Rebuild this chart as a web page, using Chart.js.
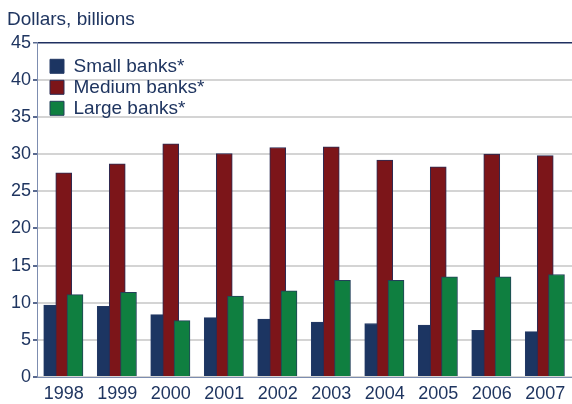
<!DOCTYPE html>
<html>
<head>
<meta charset="utf-8">
<script src="https://cdn.jsdelivr.net/npm/chart.js@4"></script>
<style>
  html, body { margin: 0; padding: 0; background: #ffffff; }
  #wrap { width: 572px; height: 404px; }
</style>
</head>
<body>
<div id="wrap"><canvas id="c" width="572" height="404"></canvas></div>
<script>
// Annual figures, dollars in billions
const years = [1998, 1999, 2000, 2001, 2002, 2003, 2004, 2005, 2006, 2007];
const smallBanks  = [9.7, 9.5, 8.4, 8.0, 7.8, 7.4, 7.2, 7.0, 6.3, 6.1];
const mediumBanks = [27.5, 28.7, 31.4, 30.1, 30.9, 31.0, 29.2, 28.3, 30.0, 29.8];
const largeBanks  = [11.1, 11.4, 7.6, 10.9, 11.6, 13.0, 13.0, 13.5, 13.5, 13.8];
const seriesNames = ['Small banks*', 'Medium banks*', 'Large banks*'];
const yTicks = [0, 5, 10, 15, 20, 25, 30, 35, 40, 45];

const TEXT = '#1f3560';
const FONT = "'Liberation Sans', Arial, sans-serif";

// Bars within a year overlap slightly; each series sits at a fixed shift from the year
const shift = [-0.225, 0, 0.21];
const toPoints = (vals, s) => vals.map((v, i) => ({ x: years[i] + s, y: v }));

const data = {
  datasets: [
    { label: seriesNames[0], data: toPoints(smallBanks, shift[0]),
      backgroundColor: '#1c3562', borderColor: '#243a66', order: 2 },
    { label: seriesNames[1], data: toPoints(mediumBanks, shift[1]),
      backgroundColor: '#7c1519', borderColor: '#2a2c55', order: 1 },
    { label: seriesNames[2], data: toPoints(largeBanks, shift[2]),
      backgroundColor: '#0f7f40', borderColor: '#23405a', order: 0 }
  ]
};

// Legend sits inside the plot area, a little in from its top-left corner
const legendPlace = {
  id: 'legendPlace',
  afterLayout(chart) {
    const lg = chart.legend;
    if (!lg) return;
    lg.left = chart.chartArea.left + 11;
    lg.top = chart.chartArea.top + 12;
  }
};

new Chart(document.getElementById('c'), {
  type: 'bar',
  data,
  plugins: [legendPlace],
  options: {
    responsive: false,
    animation: false,
    layout: { padding: { left: 7, right: 0, top: 0, bottom: 0 } },
    datasets: {
      bar: { grouped: false, barThickness: 16, borderWidth: 1, borderSkipped: 'bottom' }
    },
    plugins: {
      title: {
        display: true,
        text: 'Dollars, billions',
        align: 'start',
        color: TEXT,
        font: { family: FONT, size: 19, weight: 'normal' },
        padding: { top: 8, bottom: 12 }
      },
      legend: {
        position: 'chartArea',
        align: 'start',
        labels: {
          color: TEXT,
          font: { family: FONT, size: 19 },
          boxWidth: 14,
          boxHeight: 14,
          padding: 2,
          sort: (a, b) => a.datasetIndex - b.datasetIndex
        }
      },
      tooltip: { enabled: false }
    },
    scales: {
      x: {
        type: 'linear',
        offset: false,
        min: years[0] - 0.5,
        max: years[years.length - 1] + 0.5,
        afterBuildTicks: (scale) => { scale.ticks = years.map(v => ({ value: v })); },
        afterFit: (scale) => { scale.height = 27; },
        grid: { display: false },
        border: { display: true, color: '#7d8db0', width: 1 },
        ticks: {
          color: TEXT,
          font: { family: FONT, size: 18 },
          padding: -2,
          maxRotation: 0,
          autoSkip: false,
          callback: (v) => String(v)
        }
      },
      y: {
        min: 0,
        max: 45,
        afterBuildTicks: (scale) => { scale.ticks = yTicks.map(v => ({ value: v })); },
        afterFit: (scale) => { scale.width = 30; },
        grid: {
          color: (ctx) => ctx.tick && ctx.tick.value === 45 ? '#1f3060' : '#d4d4d4',
          lineWidth: (ctx) => ctx.tick && ctx.tick.value === 45 ? 1.5 : 2,
          tickColor: '#5a6a90',
          tickLength: 4,
          drawTicks: true
        },
        border: { display: true, color: '#7d8db0', width: 1 },
        ticks: {
          color: TEXT,
          font: { family: FONT, size: 18 },
          padding: 2
        }
      }
    }
  }
});
</script>
</body>
</html>
